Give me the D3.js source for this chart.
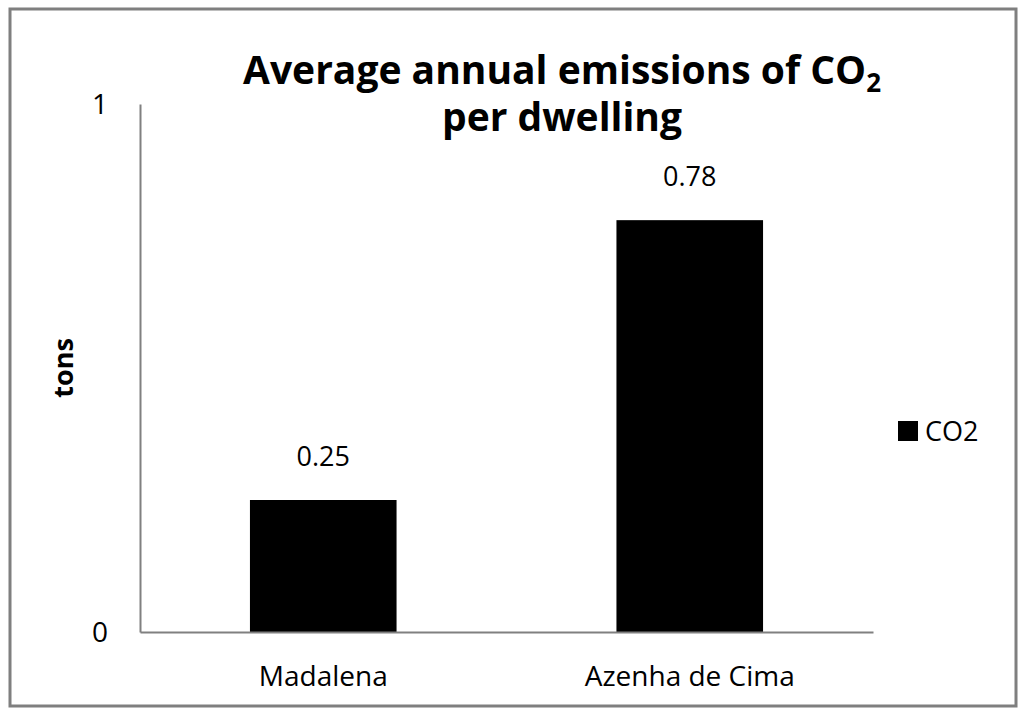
<!DOCTYPE html>
<html>
<head>
<meta charset="utf-8">
<script src="https://cdn.jsdelivr.net/npm/d3@7"></script>
<style>
  body { margin: 0; background: #fff; }
  text { font-family: "Open Sans", "Noto Sans", sans-serif; fill: #000; }
</style>
</head>
<body>
<script>
const categories = ["Madalena", "Azenha de Cima"];
const values = [0.25, 0.78];
const yTicks = [0, 1];
const seriesName = "CO2";

const width = 1024;
const height = 715;
const margin = { top: 104, right: 151, bottom: 83, left: 140 };

const svg = d3.select("body").append("svg")
  .attr("width", width)
  .attr("height", height);

// outer frame
svg.append("rect")
  .attr("x", 10).attr("y", 9)
  .attr("width", 1006).attr("height", 697)
  .attr("fill", "#fff")
  .attr("stroke", "#7f7f7f")
  .attr("stroke-width", 3);

const x = d3.scaleBand(categories, [margin.left, width - margin.right])
  .paddingInner(0.6)
  .paddingOuter(0.3);
const y = d3.scaleLinear([0, 1], [height - margin.bottom, margin.top]);

// bars
svg.append("g")
  .selectAll("rect")
  .data(values)
  .join("rect")
  .attr("x", (d, i) => x(categories[i]))
  .attr("y", d => y(d))
  .attr("width", x.bandwidth())
  .attr("height", d => y(0) - y(d))
  .attr("fill", "#000");

// value labels
svg.append("g")
  .selectAll("text")
  .data(values)
  .join("text")
  .attr("x", (d, i) => x(categories[i]) + x.bandwidth() / 2)
  .attr("y", d => y(d) - 34)
  .attr("text-anchor", "middle")
  .attr("font-size", 27)
  .text(d => d.toFixed(2));

// y axis
const yAxis = svg.append("g")
  .attr("transform", `translate(${margin.left},0)`)
  .call(d3.axisLeft(y).tickValues(yTicks).tickSize(0).tickPadding(32).tickFormat(d3.format("d")));
yAxis.select(".domain").attr("stroke", "#808080").attr("stroke-width", 2);
yAxis.selectAll("text").attr("font-size", 28).attr("font-family", null).attr("dy", "0.35em");

// x axis
const xAxis = svg.append("g")
  .attr("transform", `translate(0,${y(0)})`)
  .call(d3.axisBottom(x).tickSize(0).tickPadding(34));
xAxis.select(".domain").attr("stroke", "#808080").attr("stroke-width", 2);
xAxis.selectAll("text").attr("font-size", 28).attr("font-family", null);

// y title
svg.append("text")
  .attr("transform", `translate(73,368) rotate(-90)`)
  .attr("text-anchor", "middle")
  .attr("font-size", 27)
  .attr("font-weight", "bold")
  .text("tons");

// title, two separate lines
const title1 = svg.append("text")
  .attr("x", 562).attr("y", 84)
  .attr("text-anchor", "middle")
  .attr("font-size", 39)
  .attr("font-weight", "bold");
title1.append("tspan").text("Average annual emissions of CO");
title1.append("tspan").attr("font-size", 26).attr("dy", 8).text("2");
svg.append("text")
  .attr("x", 562).attr("y", 131)
  .attr("text-anchor", "middle")
  .attr("font-size", 39)
  .attr("font-weight", "bold")
  .text("per dwelling");

// legend
const legend = svg.append("g").attr("transform", "translate(898,421)");
legend.append("rect").attr("width", 20).attr("height", 20).attr("fill", "#000");
legend.append("text")
  .attr("x", 27).attr("y", 20)
  .attr("font-size", 27)
  .text(seriesName);
</script>
</body>
</html>
